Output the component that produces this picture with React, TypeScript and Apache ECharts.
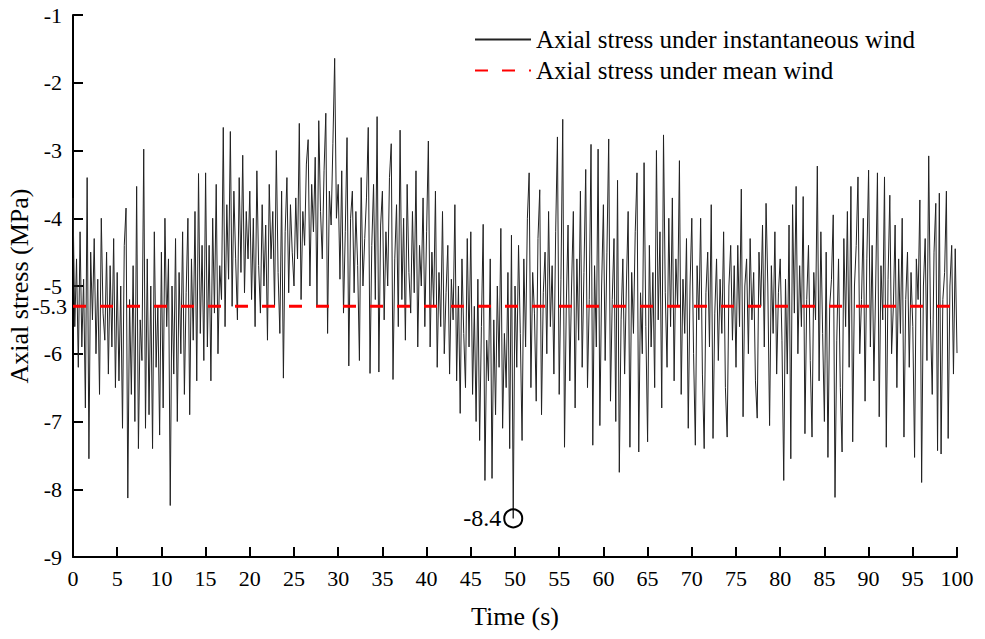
import React, { useEffect, useRef } from 'react';
import * as echarts from 'echarts';

// Sampling step of the time series (s)
const TIME_STEP = 0.2;

// Axial stress under instantaneous wind (MPa) in 5 s blocks
const stress0to5 = [-3.7, -5.6, -4.6, -6.2, -4.2, -5.9, -4.9, -6.8, -3.4, -7.55, -4.5, -5.5, -4.3, -6.0, -4.9, -6.6, -4.0, -5.4, -5.8, -4.5, -6.3, -4.7, -5.9, -4.3, -6.5];
const stress5to10 = [-4.8, -6.4, -5.0, -7.1, -4.4, -3.85, -8.13, -5.2, -6.6, -4.7, -7.0, -3.53, -7.4, -5.5, -6.1, -2.98, -7.1, -4.6, -6.9, -5.0, -7.4, -4.2, -6.2, -5.3, -7.2];
const stress10to15 = [-4.5, -6.8, -4.0, -5.6, -4.6, -8.24, -5.0, -6.3, -4.3, -7.0, -4.8, -6.0, -4.2, -6.6, -5.1, -4.0, -6.9, -4.6, -5.8, -3.9, -6.4, -3.34, -5.7, -4.4, -6.1];
const stress15to20 = [-3.33, -5.9, -4.4, -6.4, -4.0, -5.4, -3.5, -6.0, -4.7, -5.2, -2.66, -5.6, -3.8, -4.9, -2.72, -5.3, -3.6, -4.6, -5.5, -3.4, -4.8, -3.07, -5.1, -3.9, -4.6];
const stress20to25 = [-3.6, -5.2, -4.0, -5.6, -3.3, -4.7, -5.4, -3.8, -5.0, -4.1, -5.8, -3.5, -4.6, -3.9, -5.3, -3.0, -4.8, -5.7, -3.6, -6.36, -4.2, -3.4, -5.1, -3.8, -4.5];
const stress25to30 = [-5.0, -3.7, -4.6, -2.6, -5.2, -3.9, -4.4, -3.2, -2.84, -5.0, -3.5, -4.2, -3.1, -5.3, -2.56, -3.9, -4.6, -3.3, -2.45, -5.7, -3.6, -4.1, -2.9, -1.64, -4.0];
const stress30to35 = [-3.5, -4.9, -3.3, -5.4, -4.2, -2.81, -6.18, -4.0, -3.6, -5.1, -3.9, -4.7, -6.1, -3.4, -5.0, -4.3, -3.7, -2.66, -6.29, -4.4, -3.5, -5.2, -2.5, -6.27, -4.1];
const stress35to40 = [-3.6, -5.5, -4.2, -5.0, -3.4, -2.9, -6.38, -4.6, -3.8, -5.6, -2.7, -5.2, -4.0, -5.8, -3.5, -4.8, -5.4, -3.9, -5.1, -3.3, -5.9, -4.4, -5.0, -3.7, -5.6];
const stress40to45 = [-4.2, -2.86, -5.9, -4.5, -5.3, -3.6, -6.2, -4.8, -5.6, -3.9, -6.0, -5.1, -4.4, -6.3, -4.9, -5.5, -3.8, -6.4, -5.0, -6.88, -4.6, -5.7, -6.5, -4.3, -5.9];
const stress45to50 = [-4.2, -6.6, -5.3, -7.0, -4.9, -7.28, -5.6, -4.09, -7.87, -5.8, -6.4, -4.6, -7.84, -5.5, -6.9, -5.0, -6.2, -4.15, -7.1, -5.7, -6.5, -4.8, -7.4, -4.25, -8.43];
const stress50to55 = [-5.0, -6.2, -4.4, -5.7, -7.28, -4.6, -5.9, -4.0, -3.33, -6.5, -4.8, -5.4, -6.7, -4.3, -3.58, -6.9, -5.1, -4.5, -6.0, -3.9, -5.6, -4.7, -6.3, -4.2, -2.8];
const stress55to60 = [-6.6, -4.9, -2.54, -7.38, -5.3, -4.1, -6.4, -5.0, -3.9, -6.8, -4.6, -5.8, -3.6, -6.2, -4.8, -3.28, -6.5, -5.2, -2.91, -7.35, -4.7, -5.9, -2.98, -7.06, -5.0];
const stress60to65 = [-3.8, -6.1, -4.5, -2.83, -6.7, -5.2, -4.3, -7.0, -3.44, -7.75, -5.5, -4.6, -6.3, -5.0, -3.9, -7.38, -4.8, -5.7, -4.2, -3.33, -7.45, -5.1, -6.0, -3.18, -5.6];
const stress65to70 = [-7.3, -4.4, -5.9, -4.8, -6.5, -3.0, -5.5, -4.2, -6.8, -2.77, -5.1, -6.2, -4.0, -5.6, -3.7, -6.4, -4.6, -5.3, -3.15, -6.6, -4.9, -5.7, -4.3, -7.1, -5.0];
const stress70to75 = [-4.0, -6.0, -7.35, -4.7, -5.5, -4.0, -6.3, -7.4, -5.1, -4.5, -5.9, -3.8, -7.25, -5.4, -4.6, -6.1, -4.9, -5.7, -4.2, -6.5, -7.23, -5.0, -4.4, -5.8, -4.7];
const stress75to80 = [-6.2, -4.4, -5.6, -3.57, -6.93, -5.0, -4.6, -6.0, -4.3, -5.5, -4.8, -6.4, -6.95, -4.5, -5.3, -4.1, -5.9, -3.78, -5.0, -7.06, -4.7, -5.7, -4.2, -6.3, -5.1];
const stress80to85 = [-4.6, -5.8, -7.87, -4.9, -6.3, -4.1, -7.55, -3.8, -5.4, -3.53, -6.0, -4.7, -5.6, -3.68, -7.18, -5.2, -4.4, -6.1, -7.23, -4.8, -5.5, -3.23, -6.4, -4.2, -5.7];
const stress85to90 = [-7.0, -4.5, -7.53, -5.3, -4.9, -3.95, -8.12, -5.8, -4.6, -6.5, -7.45, -4.3, -5.6, -3.9, -6.2, -3.53, -7.3, -5.0, -4.4, -3.39, -6.0, -5.2, -4.0, -6.7, -4.6];
const stress90to95 = [-3.29, -5.9, -4.4, -6.4, -5.0, -3.33, -6.93, -4.7, -5.5, -3.39, -7.38, -4.9, -3.66, -6.0, -5.3, -4.1, -6.5, -4.6, -5.7, -4.0, -7.23, -5.2, -4.5, -6.2, -4.8];
const stress95to100 = [-5.6, -7.53, -4.6, -5.2, -3.73, -7.9, -5.0, -4.3, -6.1, -3.08, -5.5, -6.6, -4.5, -3.78, -7.43, -3.63, -7.48, -5.2, -4.8, -3.6, -7.25, -5.0, -4.4, -6.3, -4.45, -5.99];

// Axial stress under mean wind (MPa)
const meanStress = -5.3;
const meanLabel = '-5.3';

// Annotated minimum
const peakTime = 49.8;
const peakValue = -8.43;
const peakLabel = '-8.4';

const seriesNames = ['Axial stress under instantaneous wind', 'Axial stress under mean wind'];

const stress = [
  ...stress0to5, ...stress5to10, ...stress10to15, ...stress15to20, ...stress20to25,
  ...stress25to30, ...stress30to35, ...stress35to40, ...stress40to45, ...stress45to50,
  ...stress50to55, ...stress55to60, ...stress60to65, ...stress65to70, ...stress70to75,
  ...stress75to80, ...stress80to85, ...stress85to90, ...stress90to95, ...stress95to100,
];

export default function App() {
  const ref = useRef<HTMLDivElement>(null);
  useEffect(() => {
    if (!ref.current) return;
    const chart = echarts.init(ref.current, null, { renderer: 'svg' });
    const font = '"Liberation Serif", "Times New Roman", serif';
    const txt = { fontFamily: font, fontSize: 22, color: '#000' };
    const big = { fontFamily: font, fontSize: 26, color: '#000' };
    chart.setOption({
      animation: false,
      backgroundColor: '#fff',
      grid: { left: 73, right: 28, top: 15, bottom: 82, containLabel: false, outerBoundsMode: 'none' },
      legend: {
        orient: 'vertical',
        left: 469,
        top: 22,
        itemWidth: 56,
        itemHeight: 14,
        itemGap: 6,
        itemStyle: { opacity: 0 },
        textStyle: { fontFamily: font, fontSize: 25, color: '#000' },
        data: seriesNames,
      },
      xAxis: {
        type: 'value',
        min: 0,
        max: 100,
        interval: 5,
        name: 'Time (s)',
        nameLocation: 'middle',
        nameGap: 46,
        nameTextStyle: big,
        axisLine: { onZero: false, lineStyle: { color: '#000', width: 2 } },
        axisTick: { inside: true, length: 10, lineStyle: { color: '#000', width: 2 } },
        axisLabel: { ...txt, margin: 10 },
        splitLine: { show: false },
      },
      yAxis: {
        type: 'value',
        min: -9,
        max: -1,
        interval: 1,
        name: 'Axial stress (MPa)',
        nameLocation: 'middle',
        nameRotate: 90,
        nameGap: 35,
        nameTextStyle: big,
        axisLine: { show: true, onZero: false, lineStyle: { color: '#000', width: 2 } },
        axisTick: { show: true, inside: true, length: 10, lineStyle: { color: '#000', width: 2 } },
        axisLabel: { ...txt, margin: 11 },
        splitLine: { show: false },
      },
      series: [
        {
          name: seriesNames[0],
          type: 'line',
          data: stress.map((v, i) => [Number((i * TIME_STEP).toFixed(1)), v]),
          symbol: 'none',
          showSymbol: false,
          lineStyle: { color: '#222', width: 1 },
          itemStyle: { color: '#222' },
          z: 2,
          markPoint: {
            symbol: 'circle',
            symbolSize: 18,
            itemStyle: { color: 'rgba(0,0,0,0)', borderColor: '#000', borderWidth: 2 },
            label: { show: true, position: 'left', distance: 2, formatter: peakLabel, fontFamily: font, fontSize: 24, color: '#000' },
            data: [{ coord: [peakTime, peakValue], value: peakValue }],
          },
        },
        {
          name: seriesNames[1],
          type: 'line',
          data: [[0, meanStress], [100, meanStress]],
          symbol: 'none',
          showSymbol: false,
          lineStyle: { color: '#ff0000', width: 3, type: [13, 14] },
          itemStyle: { color: '#ff0000' },
          z: 3,
        },
      ],
    });
    const p = chart.convertToPixel({ gridIndex: 0 }, [0, meanStress]) as number[];
    chart.setOption({
      graphic: [
        {
          type: 'text',
          x: p[0] - 6,
          y: p[1],
          z: 10,
          style: { text: meanLabel, font: `22px ${font}`, fill: '#000', align: 'right', verticalAlign: 'middle' },
        },
      ],
    });
    return () => chart.dispose();
  }, []);
  return <div ref={ref} style={{ position: 'absolute', left: 0, top: 0, width: 985, height: 639 }} />;
}
